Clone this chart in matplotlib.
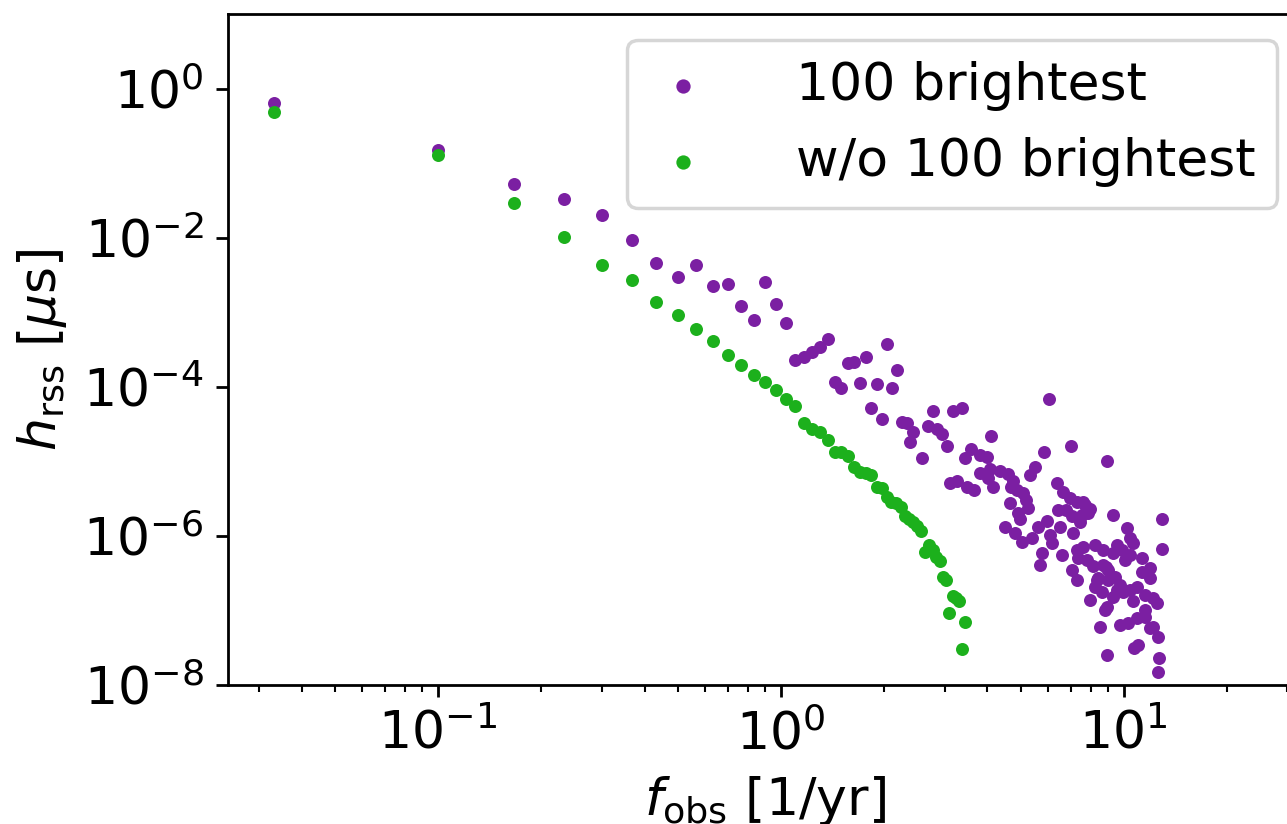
import numpy as np
import matplotlib
matplotlib.use("Agg")
import matplotlib.pyplot as plt

PURPLE = "#7b1fa2"
GREEN = "#1cb01c"

# Frequency bins [1/yr] and log10 of h_rss [mu s] without the 100 brightest binaries
green_freq = [0.0333, 0.1, 0.167, 0.233, 0.3, 0.367, 0.433, 0.5, 0.567, 0.633,
              0.7, 0.767, 0.833, 0.9, 0.967, 1.033, 1.1, 1.167, 1.233, 1.3,
              1.367, 1.433, 1.5, 1.567, 1.633, 1.7, 1.767, 1.833, 1.9, 1.967,
              2.033, 2.1, 2.167, 2.233, 2.3, 2.367, 2.433, 2.5, 2.567, 2.633,
              2.7, 2.767, 2.833, 2.9, 2.967, 3.033, 3.1, 3.167, 3.233, 3.3,
              3.367, 3.433]
green_log_h = [-0.31, -0.89, -1.54, -1.99, -2.36, -2.57, -2.86, -3.04, -3.22, -3.39,
               -3.58, -3.71, -3.84, -3.93, -4.04, -4.17, -4.26, -4.48, -4.57, -4.61,
               -4.72, -4.87, -4.88, -4.93, -5.07, -5.14, -5.15, -5.18, -5.34, -5.36,
               -5.48, -5.54, -5.56, -5.61, -5.74, -5.77, -5.81, -5.87, -5.94, -6.21,
               -6.12, -6.19, -6.28, -6.34, -6.55, -6.59, -7.04, -6.80, -6.83, -6.87,
               -7.52, -7.15]

# Frequencies [1/yr] and log10 of h_rss [mu s] for the 100 brightest binaries
purple_freq = [0.0333, 0.1, 0.167, 0.233, 0.3, 0.367, 0.433, 0.5, 0.567, 0.633,
               0.7, 0.767, 0.833, 0.9, 0.967, 1.033, 1.1, 1.167, 1.233, 1.3,
               1.367, 1.433, 1.5, 1.567, 1.633, 1.7, 1.767, 1.833, 1.9, 1.967,
               2.033,
               2.11, 2.18, 2.25, 2.33, 2.43, 2.38, 2.58, 2.68, 2.77, 2.85,
               2.95, 3.05, 3.17, 3.37, 3.11, 3.26, 3.48, 3.65, 3.44, 3.58,
               3.80, 3.98, 3.80, 4.01, 4.09, 4.07, 4.35, 4.59, 4.75, 4.15,
               4.68, 4.87, 5.08, 5.18, 5.25, 4.65, 4.91, 5.50, 5.32, 5.84,
               6.04, 7.00, 6.37, 6.64, 6.96, 7.29, 7.59, 7.96, 6.42, 6.77,
               7.05, 7.54, 7.85, 4.50, 4.81, 5.04, 5.39, 5.61, 5.96, 6.51,
               5.77, 5.69, 6.17, 6.59, 7.10, 7.44, 7.29, 7.05, 7.29, 8.92,
               9.29, 12.91, 12.91, 10.20, 10.41, 10.62, 7.59, 8.23, 8.68, 9.29,
               9.87, 10.41, 11.28, 7.34, 7.80, 8.12, 8.68, 8.98, 8.34, 8.23,
               8.63, 9.41, 9.73, 9.93, 11.28, 11.91, 10.90, 11.51, 12.15, 12.48,
               7.96, 8.92, 9.29, 9.73, 10.27, 10.91, 11.51, 8.51, 11.91, 12.57,
               10.98, 10.68, 8.92, 12.65, 12.57, 8.80, 8.98, 8.40, 8.86, 10.62,
               11.91, 12.15, 9.53, 9.53, 10.06, 6.08, 7.69, 4.97, 11.51, 10.41]
purple_log_h = [-0.20, -0.82, -1.28, -1.48, -1.69, -2.03, -2.34, -2.53, -2.36, -2.65,
                -2.62, -2.91, -3.10, -2.60, -2.89, -3.15, -3.64, -3.60, -3.54, -3.46,
                -3.36, -3.94, -4.01, -3.68, -3.67, -3.95, -3.60, -4.28, -3.96, -4.43,
                -3.42,
                -4.02, -3.77, -4.47, -4.48, -4.60, -4.74, -4.95, -4.53, -4.32, -4.57,
                -4.64, -4.79, -4.33, -4.29, -5.29, -5.27, -5.34, -5.39, -4.95, -4.83,
                -4.91, -4.94, -5.15, -5.22, -4.66, -5.10, -5.13, -5.17, -5.27, -5.34,
                -5.34, -5.38, -5.42, -5.52, -5.62, -5.56, -5.69, -5.07, -5.18, -4.88,
                -4.17, -4.79, -5.29, -5.41, -5.49, -5.54, -5.54, -5.64, -5.65, -5.65,
                -5.74, -5.72, -5.69, -5.88, -5.96, -6.08, -6.03, -5.88, -5.80, -5.88,
                -6.23, -6.39, -6.09, -6.25, -5.96, -5.82, -6.19, -6.46, -6.59, -5.00,
                -5.72, -5.78, -6.17, -5.89, -6.03, -6.09, -6.15, -6.12, -6.19, -6.23,
                -6.19, -6.25, -6.29, -6.29, -6.32, -6.41, -6.39, -6.46, -6.59, -6.68,
                -6.75, -6.55, -6.66, -6.75, -6.48, -6.43, -6.68, -6.79, -6.83, -6.90,
                -6.86, -6.95, -6.82, -7.19, -7.17, -7.10, -7.09, -7.22, -7.23, -7.36,
                -7.46, -7.50, -7.60, -7.64, -7.83, -6.99, -6.59, -6.56, -6.42, -6.88,
                -6.56, -7.22, -6.72, -6.12, -6.32, -5.99, -5.58, -5.78, -6.99, -6.72]

FS = 15

fig = plt.figure(figsize=(5.148, 3.296), dpi=250)
ax = fig.add_axes([0.1772, 0.1687, 0.8352, 0.8143])

ax.scatter(purple_freq, 10.0 ** np.array(purple_log_h), s=14, color=PURPLE,
           linewidths=0, label="100 brightest", zorder=2)
ax.scatter(green_freq, 10.0 ** np.array(green_log_h), s=14, color=GREEN,
           linewidths=0, label="w/o 100 brightest", zorder=3)

ax.set_xscale("log")
ax.set_yscale("log")
ax.set_xlim(0.0244, 33.3)
ax.set_ylim(1e-8, 10)
ax.set_yticks([1e-8, 1e-6, 1e-4, 1e-2, 1e0])

ax.set_xlabel(r"$f_{\rm obs}$ [1/yr]", fontsize=FS)
ax.set_ylabel(r"$h_{\rm rss}$ [$\mu$s]", fontsize=FS)
ax.tick_params(labelsize=FS)

ax.legend(fontsize=FS, loc="upper right", markerscale=1.1,
          handlelength=1.35, handletextpad=1.5)

fig.savefig("out.png", dpi=250)
